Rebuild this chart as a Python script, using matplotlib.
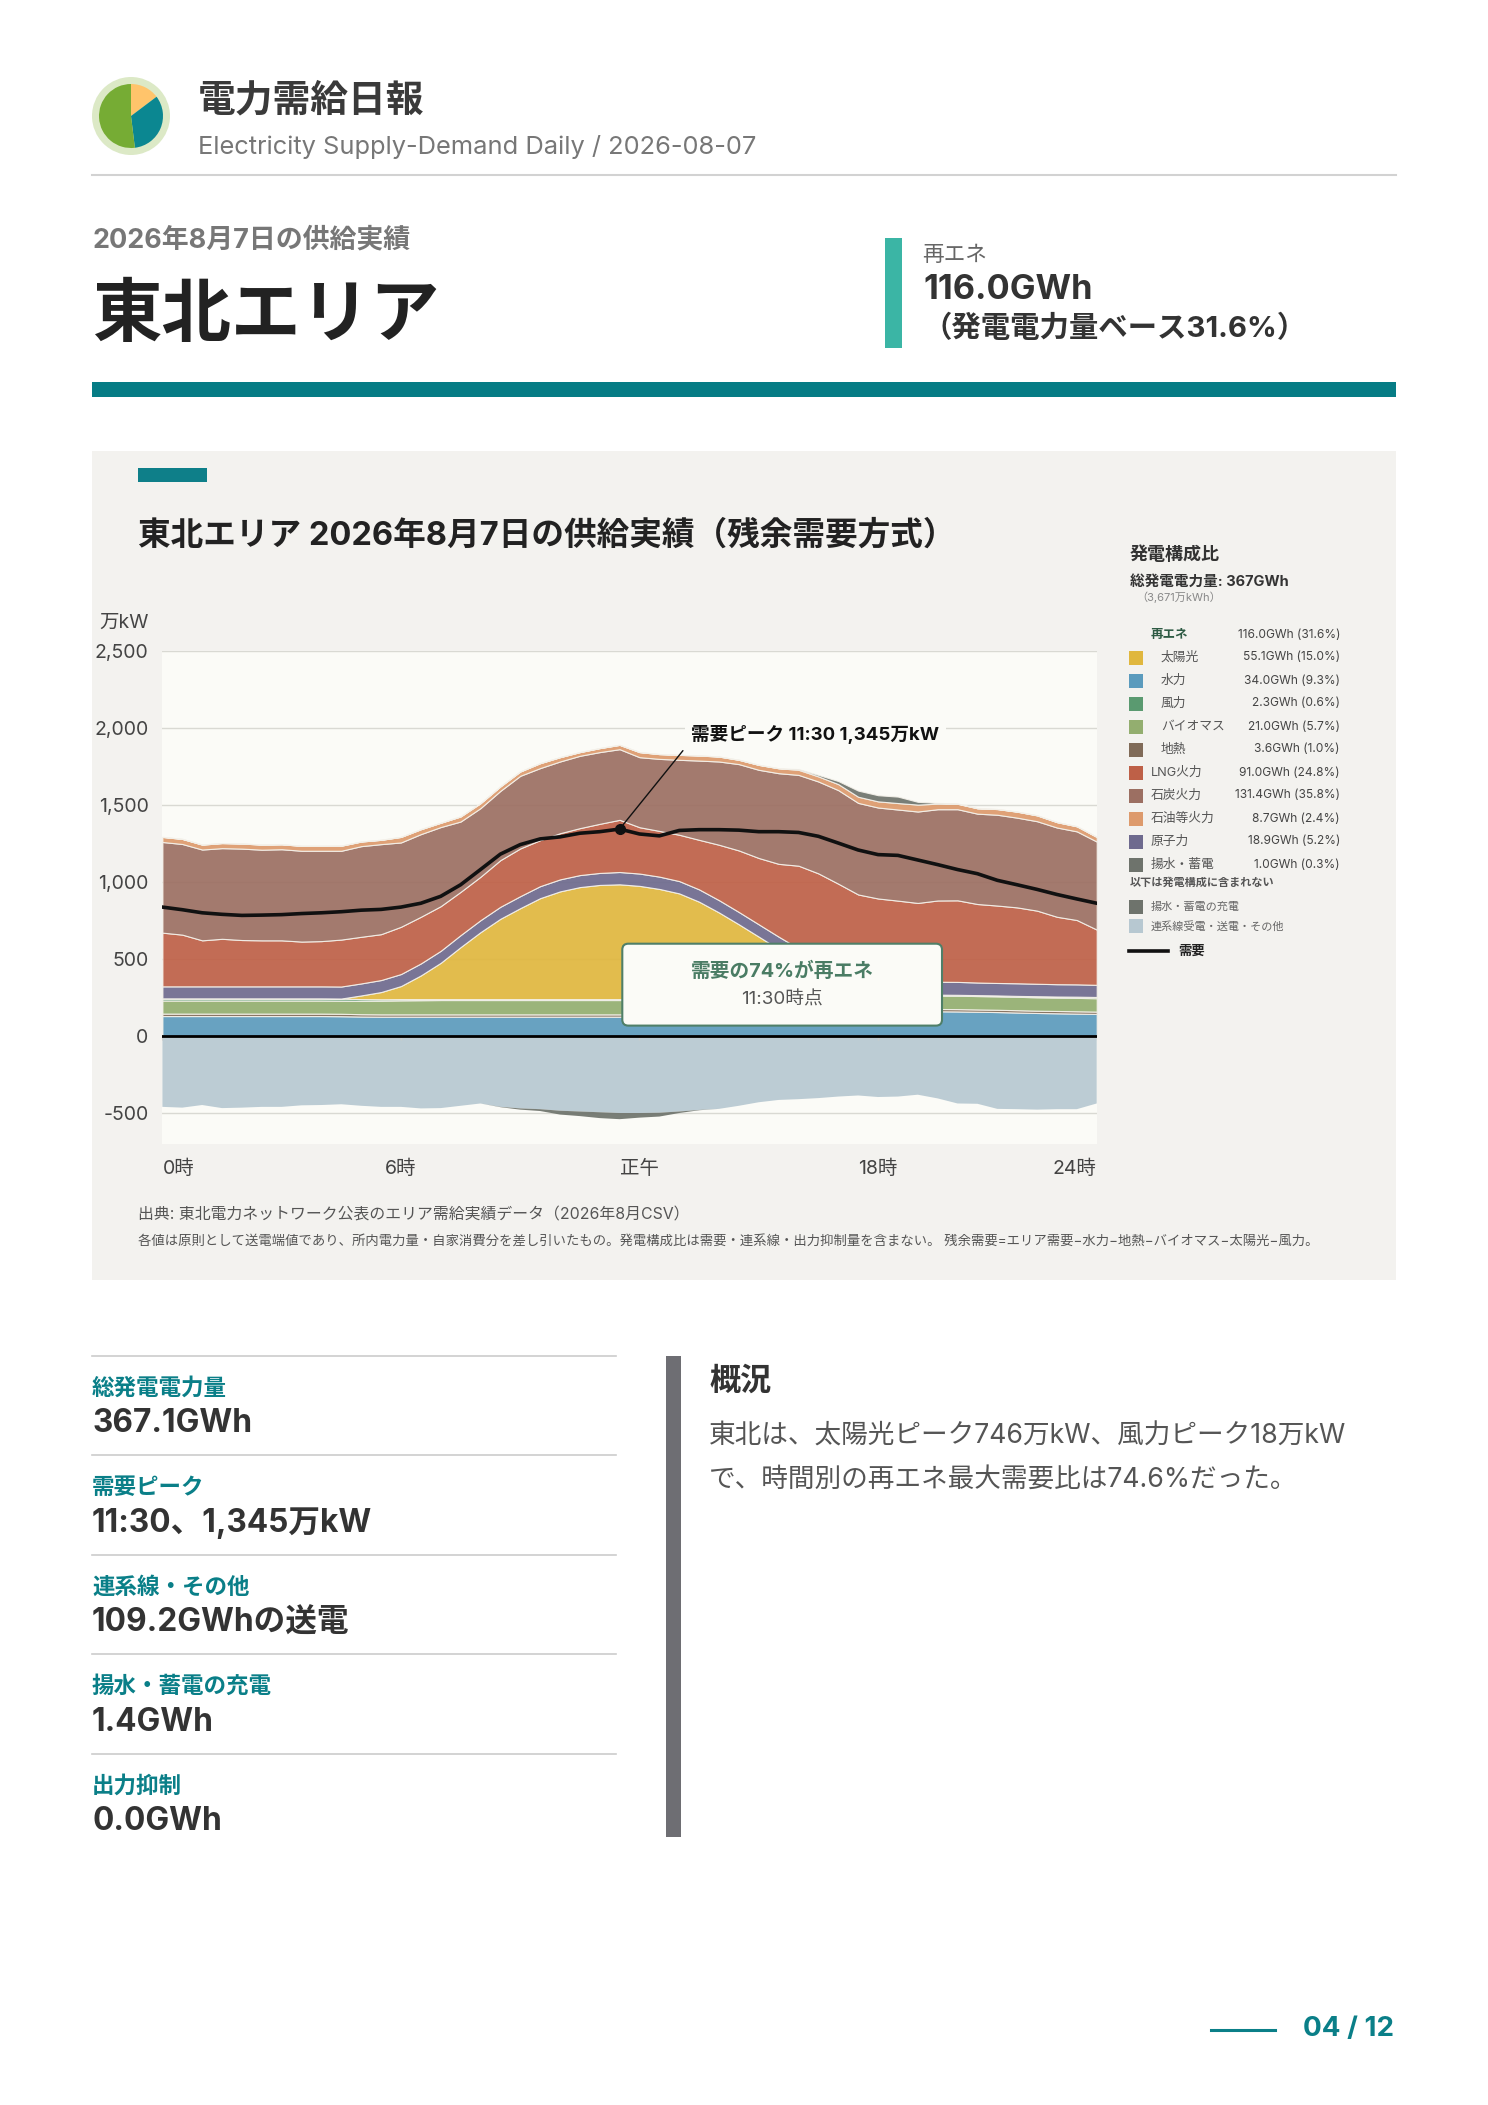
import matplotlib
matplotlib.use("Agg")
import matplotlib.pyplot as plt
from matplotlib.patches import Circle, FancyBboxPatch, Rectangle

plt.rcParams['font.family'] = ['Inter', 'Noto Sans CJK JP', 'DejaVu Sans']
plt.rcParams['axes.unicode_minus'] = False

# 30分値 (万kW)
slots = list(range(48))
hydro = [130, 130, 130, 130, 130, 130, 130, 130, 130, 129, 127, 126, 126, 126, 126, 126, 126, 126, 126, 126, 126, 126, 126, 126,
         128, 130, 132, 134, 136, 138, 140, 142, 145, 148, 152, 155, 158, 160, 160, 161, 160, 158, 156, 153, 150, 148, 146, 144]
geothermal = [16, 16, 16, 16, 16, 16, 16, 16, 16, 16, 15, 15, 15, 15, 15, 15, 15, 15, 15, 15, 15, 15, 15, 15,
              15, 15, 15, 15, 15, 15, 15, 15, 15, 15, 15, 15, 15, 15, 15, 15, 15, 15, 15, 15, 15, 15, 15, 15]
biomass = [85, 85, 85, 85, 85, 85, 85, 85, 85, 85, 87, 89, 91, 92, 93, 93, 93, 93, 93, 93, 93, 93, 93, 93,
           93, 92, 92, 91, 91, 90, 90, 89, 89, 88, 88, 87, 87, 87, 87, 87, 87, 87, 87, 87, 87, 87, 87, 87]
wind = [14, 14, 14, 14, 14, 14, 14, 14, 14, 14, 11, 9, 8, 7, 6, 6, 6, 6, 6, 6, 6, 6, 6, 6,
        6, 7, 7, 7, 8, 8, 8, 9, 10, 10, 11, 12, 12, 13, 8, 6, 6, 6, 6, 6, 7, 7, 8, 8]
solar = [0, 0, 0, 0, 0, 0, 0, 0, 0, 0, 24, 47, 85, 154, 236, 338, 435, 522, 591, 656, 700, 728, 742, 746,
         734, 712, 681, 626, 553, 475, 393, 311, 231, 139, 69, 36, 14, 3, 0, 0, 0, 0, 0, 0, 0, 0, 0, 0]
nuclear = [78, 78, 78, 78, 78, 78, 78, 78, 78, 78, 78, 78, 78, 78, 78, 78, 78, 78, 78, 78, 78, 78, 78, 80,
           80, 80, 80, 80, 80, 80, 80, 80, 80, 80, 80, 80, 80, 80, 82, 84, 84, 82, 81, 82, 81, 80, 80, 79]
lng = [349, 336, 299, 309, 301, 299, 299, 291, 294, 305, 303, 298, 307, 303, 290, 281, 282, 303, 310, 299, 300, 305, 319, 339,
       301, 297, 301, 322, 360, 400, 431, 473, 537, 577, 575, 535, 528, 522, 513, 528, 530, 510, 503, 493, 475, 438, 418, 359]
coal = [589, 589, 590, 589, 594, 589, 592, 590, 587, 577, 589, 585, 548, 537, 514, 457, 446, 450, 472, 468, 466, 470, 466, 459,
        455, 468, 487, 515, 541, 561, 573, 589, 590, 597, 608, 595, 591, 592, 594, 593, 592, 587, 590, 583, 581, 580, 576, 572]
oil = [33, 33, 32, 33, 33, 33, 32, 32, 32, 33, 30, 28, 36, 32, 28, 33, 32, 29, 28, 32, 28, 24, 26, 28,
       33, 31, 32, 33, 32, 28, 32, 32, 33, 33, 39, 40, 40, 42, 45, 36, 35, 35, 37, 39, 38, 35, 33, 30]
pumped_out = [0, 0, 0, 0, 0, 0, 0, 0, 0, 0, 0, 0, 0, 0, 0, 0, 0, 0, 0, 0, 0, 0, 0, 0,
              0, 0, 0, 0, 0, 0, 0, 0, 5, 10, 20, 40, 40, 42, 18, 5, 2, 0, 0, 0, 0, 0, 0, 0]
interties = [-460, -465, -448, -468, -465, -460, -460, -450, -448, -443, -453, -460, -460, -470, -468, -453, -438, -460, -470, -475, -485, -490, -495, -500,
             -500, -498, -490, -480, -473, -453, -430, -415, -410, -403, -393, -386, -396, -393, -381, -405, -438, -440, -473, -475, -478, -475, -475, -438]
pumped_in = [0, 0, 0, 0, 0, 0, 0, 0, 0, 0, 0, 0, 0, 0, 0, 0, 0, -2, -8, -12, -25, -30, -38, -40,
             -30, -25, -10, -2, 0, 0, 0, 0, 0, 0, 0, 0, 0, 0, 0, 0, 0, 0, 0, 0, 0, 0, 0, 0]
demand = [838, 821, 801, 791, 784, 786, 789, 796, 801, 808, 818, 823, 838, 863, 908, 983, 1082, 1182, 1244, 1281, 1294, 1318, 1328, 1345,
          1313, 1301, 1336, 1341, 1341, 1338, 1328, 1328, 1323, 1298, 1254, 1209, 1179, 1174, 1144, 1114, 1082, 1055, 1012, 983, 953, 920, 891, 863]

y_ticks = [-500, 0, 500, 1000, 1500, 2000, 2500]
y_labels = ['-500', '0', '500', '1,000', '1,500', '2,000', '2,500']
x_ticks = [0, 12, 24, 36, 47]
x_labels = ['0時', '6時', '正午', '18時', '24時']

# 凡例
legend_rows = ['太陽光', '水力', '風力', 'バイオマス', '地熱', 'LNG火力', '石炭火力', '石油等火力', '原子力', '揚水・蓄電']
legend_vals = ['55.1GWh (15.0%)', '34.0GWh (9.3%)', '2.3GWh (0.6%)', '21.0GWh (5.7%)', '3.6GWh (1.0%)',
               '91.0GWh (24.8%)', '131.4GWh (35.8%)', '8.7GWh (2.4%)', '18.9GWh (5.2%)', '1.0GWh (0.3%)']
legend_colors = ['#E0B73E', '#5B9BBD', '#5A9A70', '#93AE6F', '#806B58', '#BE6047', '#9C6F62', '#DD9A6C', '#6E6A8E', '#6E736C']

stat_labels = ['総発電電力量', '需要ピーク', '連系線・その他', '揚水・蓄電の充電', '出力抑制']
stat_values = ['367.1GWh', '11:30、1,345万kW', '109.2GWhの送電', '1.4GWh', '0.0GWh']
logo_shares = [53, 120, 187]

W, H = 1488, 2105
TEAL = '#0A7F88'


def rect(x0, y0, x1, y1):
    return [x0 / W, 1 - y1 / H, (x1 - x0) / W, (y1 - y0) / H]


fig = plt.figure(figsize=(W / 100, H / 100), dpi=100, facecolor='white')

# ページ全体はピクセル座標で描く
page = fig.add_axes([0, 0, 1, 1], zorder=0)
page.set_xlim(0, W)
page.set_ylim(H, 0)
page.axis('off')


def txt(ax, x, y, s, size, color='#333333', weight='normal', ha='left'):
    ax.text(x, y, s, fontsize=size, color=color, fontweight=weight, ha=ha, va='center')


# ヘッダー
page.add_patch(Circle((131, 116), 39, color='#DCE9C6', lw=0))
logo = fig.add_axes(rect(99, 84, 163, 148), zorder=1)
logo.pie(logo_shares, colors=['#FFC46B', '#0B8791', '#76AC34'], startangle=90, counterclock=False, radius=1.0)
logo.set_xlim(-1, 1)
logo.set_ylim(-1, 1)

txt(page, 198, 101, '電力需給日報', 27.2, '#3A3A3A', 'bold')
txt(page, 198, 147, 'Electricity Supply-Demand Daily / 2026-08-07', 18.3, '#777777')
page.plot([92, 1396], [175, 175], color='#D2D2D2', lw=1.5)
txt(page, 92, 240, '2026年8月7日の供給実績', 19.4, '#777777', 'bold')
txt(page, 92, 317, '東北エリア', 50, '#222222', 'bold')
page.add_patch(Rectangle((92, 382), 1304, 15, color='#067C85', lw=0))

page.add_patch(Rectangle((885, 238), 17, 110, color='#3BB5A5', lw=0))
txt(page, 922, 255, '再エネ', 15.6, '#666666', 'normal')
txt(page, 923, 290, '116.0GWh', 24.7, '#333333', 'bold')
txt(page, 923, 329, '（発電電力量ベース31.6%）', 21.2, '#333333', 'bold')

# グラフパネル
page.add_patch(Rectangle((92, 451), 1304, 829, color='#F3F2EF', lw=0))
page.add_patch(Rectangle((138, 468), 69, 14, color='#0E7F89', lw=0))
txt(page, 138, 536, '東北エリア 2026年8月7日の供給実績（残余需要方式）', 23.5, '#222222', 'bold')
txt(page, 149, 623, '万kW', 14, '#444444', ha='right')
txt(page, 138, 1215, '出典: 東北電力ネットワーク公表のエリア需給実績データ（2026年8月CSV）', 11.4, '#555555')
txt(page, 138, 1242, '各値は原則として送電端値であり、所内電力量・自家消費分を差し引いたもの。発電構成比は需要・連系線・出力抑制量を含まない。 残余需要=エリア需要−水力−地熱−バイオマス−太陽光−風力。', 9.6, '#555555')

# 本体チャート
ax = fig.add_axes(rect(162.4, 651.3, 1096.7, 1143.8), zorder=1)
ax.set_facecolor('#FBFBF7')
ax.set_xlim(0, 47)
ax.set_ylim(-700, 2500)
for s in ax.spines.values():
    s.set_visible(False)
ax.set_axisbelow(True)
ax.yaxis.grid(True, color='#D9D9D3', lw=1.0)
ax.set_yticks(y_ticks)
ax.set_yticklabels(y_labels, fontsize=14, color='#444444')
ax.set_xticks(x_ticks)
ax.set_xticklabels(x_labels, fontsize=14, color='#444444')
ax.tick_params(axis='both', length=0)
ax.tick_params(axis='y', pad=10)
ax.tick_params(axis='x', pad=11.5)
tick_ha = ['left', 'center', 'center', 'center', 'right']
for lab, ha in zip(ax.get_xticklabels(), tick_ha):
    lab.set_ha(ha)

stack = [hydro, geothermal, biomass, wind, solar, nuclear, lng, coal, oil, pumped_out]
stack_colors = ['#5B9BBD', '#806B58', '#93AE6F', '#5A9A70', '#E0B73E', '#6E6A8E', '#BE6047', '#9C6F62', '#DD9A6C', '#6E736C']
ax.stackplot(slots, stack, colors=stack_colors, alpha=0.92, edgecolor='#F4F1EA', linewidth=0.8, zorder=2)
ax.stackplot(slots, [interties, pumped_in], colors=['#B7C8D1', '#6E736C'], alpha=0.92, linewidth=0, zorder=2)

ax.vlines(x_ticks, -25, 0, color='#C9CCCB', lw=1, zorder=3)
ax.axhline(0, color='black', lw=2, zorder=4)
ax.plot(slots, demand, color='#111111', lw=2.6, zorder=5, solid_joinstyle='round')

peak = demand.index(max(demand))
ax.plot(slots[peak], demand[peak], 'o', color='#111111', ms=7, zorder=6)
ax.annotate('需要ピーク 11:30 1,345万kW', xy=(slots[peak], demand[peak]), xytext=(26.6, 1958),
            fontsize=13.4, fontweight='bold', color='#111111', va='center', ha='left', zorder=7,
            bbox=dict(boxstyle='square,pad=0.35', fc='#FBFBF7', ec='none'),
            arrowprops=dict(arrowstyle='-', color='#111111', lw=1, shrinkA=2, shrinkB=0, relpos=(0, 0.2)))

# 吹き出しと凡例はチャートの上に重ねる
over = fig.add_axes([0, 0, 1, 1], zorder=2)
over.set_xlim(0, W)
over.set_ylim(H, 0)
over.axis('off')
over.patch.set_alpha(0)

over.add_patch(FancyBboxPatch((622.3, 943.7), 319.7, 81.9, boxstyle='round,pad=0,rounding_size=6',
                              fc='#FBFBF7', ec='#4F7F68', lw=1.5))
txt(over, 782, 971, '需要の74%が再エネ', 14.2, '#4A7C64', 'bold', 'center')
txt(over, 782, 1000, '11:30時点', 13.5, '#555555', ha='center')

txt(over, 1130, 555, '発電構成比', 13, '#333333', 'bold')
txt(over, 1130, 582, '総発電電力量: 367GWh', 10.5, '#333333', 'bold')
txt(over, 1136, 597, '（3,671万kWh）', 8, '#888888')
txt(over, 1151, 635, '再エネ', 9, '#2D5A43', 'bold')
txt(over, 1340, 635, '116.0GWh (31.6%)', 8.6, '#444444', 'normal', 'right')
for n, (name, val, col) in enumerate(zip(legend_rows, legend_vals, legend_colors)):
    y = 657.5 + n * 23
    over.add_patch(Rectangle((1129, y - 7), 14, 14, color=col, lw=0))
    txt(over, 1161 if n < 5 else 1151, y, name, 9.2, '#555555')
    txt(over, 1340, y, val, 8.6, '#444444', 'normal', 'right')
txt(over, 1130, 882.5, '以下は発電構成に含まれない', 8, '#555555', 'bold')
over.add_patch(Rectangle((1129, 900), 14, 14, color='#6E736C', lw=0))
txt(over, 1151, 907, '揚水・蓄電の充電', 8, '#666666')
over.add_patch(Rectangle((1129, 919), 14, 14, color='#B7C8D1', lw=0))
txt(over, 1151, 926, '連系線受電・送電・その他', 8, '#666666')
over.plot([1129, 1168], [951, 951], color='#111111', lw=2.6)
txt(over, 1178, 952, '需要', 9.6, '#222222', 'bold')

# 下段の指標
for n, (lab, val) in enumerate(zip(stat_labels, stat_values)):
    top = 1356 + n * 99.4
    page.plot([92, 616], [top, top], color='#CCCCCC', lw=1.2)
    txt(page, 92, top + 33, lab, 16.2, TEAL, 'bold')
    txt(page, 92, top + 68, val, 22.8, '#333333', 'bold')

page.add_patch(Rectangle((666, 1356), 15, 481, color='#6E6E73', lw=0))
txt(page, 709, 1381, '概況', 22.4, '#333333', 'bold')
txt(page, 709, 1437, '東北は、太陽光ピーク746万kW、風力ピーク18万kW', 19.2, '#555555')
txt(page, 709, 1480, 'で、時間別の再エネ最大需要比は74.6%だった。', 19.2, '#555555')

page.plot([1211, 1275], [2030, 2030], color=TEAL, lw=2.2)
txt(page, 1394, 2029, '04 / 12', 20, TEAL, 'bold', 'right')

fig.savefig('out.png', dpi=100)
